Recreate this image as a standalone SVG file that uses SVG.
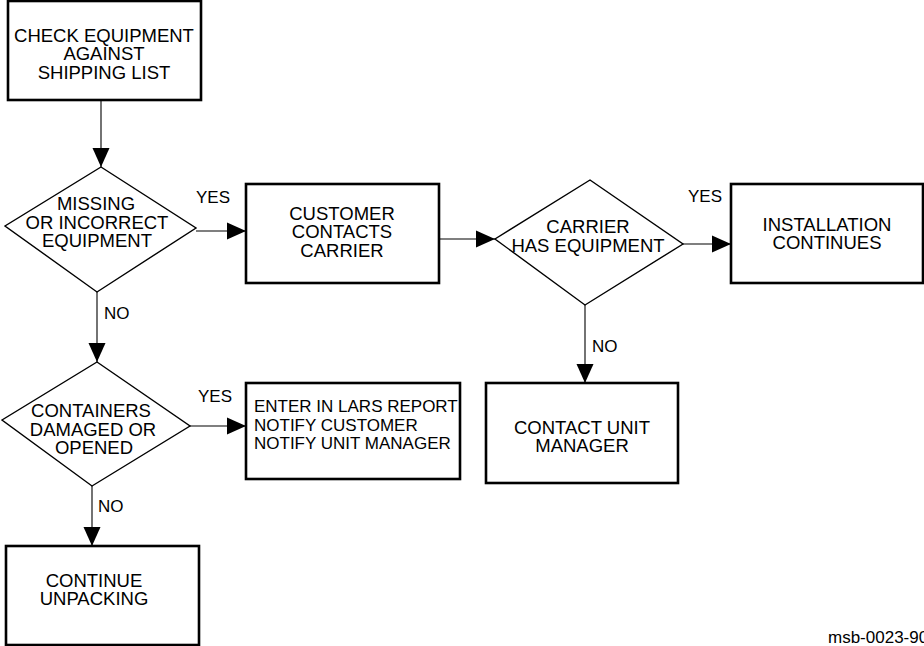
<svg xmlns="http://www.w3.org/2000/svg" width="924" height="646" viewBox="0 0 924 646">
<style>
text{font-family:"Liberation Sans",Arial,sans-serif;fill:#000}
.t{font-size:18.5px;text-anchor:middle}
.l{font-size:17px}
.lab{font-size:17px}
.box{fill:#fff;stroke:#000;stroke-width:2.6}
.dia{fill:#fff;stroke:#000;stroke-width:1.4}
.c{fill:none;stroke:#000;stroke-width:1.1;marker-end:url(#ah)}
</style>
<defs>
<marker id="ah" markerUnits="userSpaceOnUse" markerWidth="19" markerHeight="18" refX="19" refY="8.5" orient="auto" viewBox="0 0 19 17">
<path d="M0,0 L19,8.5 L0,17 z" fill="#000"/>
</marker>
</defs>
<g id="connectors">
<path class="c" d="M101,100 V167"/>
<path class="c" d="M196,231 H246"/>
<path class="c" d="M439,239 H495"/>
<path class="c" d="M683,244 H731"/>
<path class="c" d="M585,305 V383"/>
<path class="c" d="M97,292 V362"/>
<path class="c" d="M190,426 H246"/>
<path class="c" d="M92,486 V546"/>
<text class="lab" x="196" y="203">YES</text>
<text class="lab" x="688" y="202">YES</text>
<text class="lab" x="592" y="352">NO</text>
<text class="lab" x="104" y="319">NO</text>
<text class="lab" x="198" y="402">YES</text>
<text class="lab" x="98" y="512">NO</text>
</g>
<g id="check">
<rect class="box" x="8" y="1" width="193" height="99"/>
<text class="t" x="104" y="42">CHECK EQUIPMENT</text>
<text class="t" x="104" y="60">AGAINST</text>
<text class="t" x="104" y="79">SHIPPING LIST</text>
</g>
<g id="missing">
<polygon class="dia" points="101,167 196,228 97,292 5,226"/>
<text class="t" x="96" y="210">MISSING</text>
<text class="t" x="97" y="229">OR INCORRECT</text>
<text class="t" x="97" y="247">EQUIPMENT</text>
</g>
<g id="customer">
<rect class="box" x="246" y="184" width="193" height="99"/>
<text class="t" x="342" y="220">CUSTOMER</text>
<text class="t" x="342" y="238">CONTACTS</text>
<text class="t" x="342" y="257">CARRIER</text>
</g>
<g id="carrier">
<polygon class="dia" points="590,180 683,244 585,305 495,239"/>
<text class="t" x="588" y="233">CARRIER</text>
<text class="t" x="588" y="252">HAS EQUIPMENT</text>
</g>
<g id="installation">
<rect class="box" x="731" y="184" width="192" height="99"/>
<text class="t" x="827" y="231">INSTALLATION</text>
<text class="t" x="827" y="249">CONTINUES</text>
</g>
<g id="contact">
<rect class="box" x="486" y="383" width="192" height="100"/>
<text class="t" x="582" y="434">CONTACT UNIT</text>
<text class="t" x="582" y="452">MANAGER</text>
</g>
<g id="containers">
<polygon class="dia" points="97,362 190,426 92,486 2,420"/>
<text class="t" x="91" y="417">CONTAINERS</text>
<text class="t" x="93" y="436">DAMAGED OR</text>
<text class="t" x="94" y="454">OPENED</text>
</g>
<g id="enter">
<rect class="box" x="246" y="383" width="214" height="96"/>
<text class="l" x="254" y="412">ENTER IN LARS REPORT</text>
<text class="l" x="254" y="431">NOTIFY CUSTOMER</text>
<text class="l" x="254" y="449">NOTIFY UNIT MANAGER</text>
</g>
<g id="continue">
<rect class="box" x="6" y="546" width="193" height="99"/>
<text class="t" x="94" y="587">CONTINUE</text>
<text class="t" x="94" y="605">UNPACKING</text>
</g>
<text class="lab" x="828" y="643" font-size="16">msb-0023-90</text>
</svg>
